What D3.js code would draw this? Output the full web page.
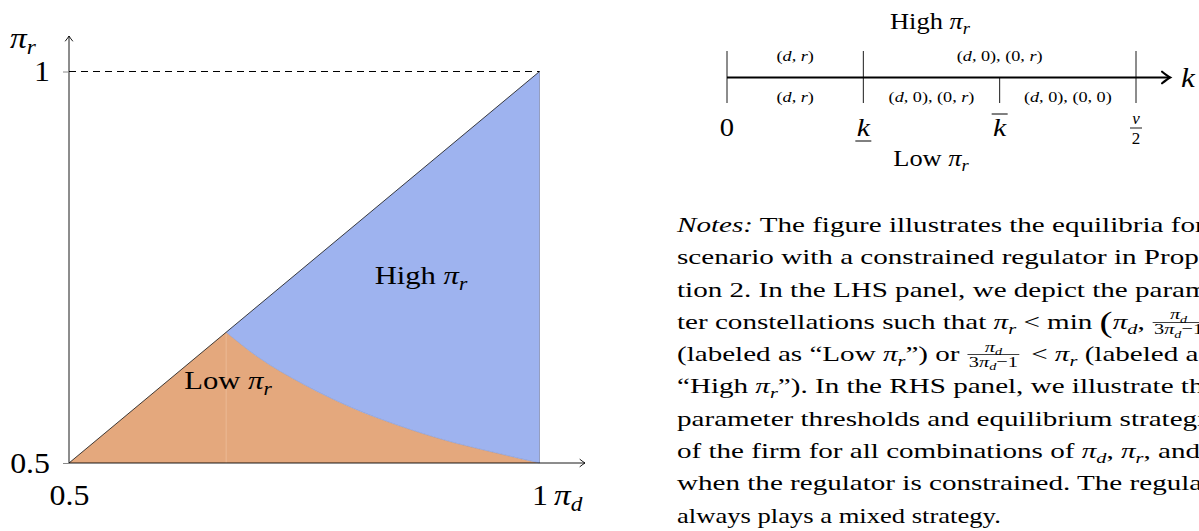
<!DOCTYPE html>
<html>
<head>
<meta charset="utf-8">
<script src="https://cdn.jsdelivr.net/npm/d3@7"></script>
<style>
  body { margin: 0; background: #fff; }
  svg { display: block; }
  text { font-family: "Liberation Serif", "DejaVu Serif", serif; fill: #000; white-space: pre; }
</style>
</head>
<body>
<svg id="chart" width="1199" height="531"></svg>
<script>
// LHS panel data (pi_d, pi_r)
const axisTicks = [0.5, 1];
const diagonal = [[0.5, 0.5], [1, 1]];
const kink = [0.667, 0.667];
// boundary between "Low" and "High"
const boundary = [[0.667, 0.667], [0.7, 0.636], [0.75, 0.6], [0.8, 0.571], [0.85, 0.548], [0.9, 0.529], [0.95, 0.514], [1, 0.5]];
const regionLabels = ['High', 'Low'];

// RHS panel data
const kThresholds = [0, 1, 2, 3];
const kTickLabels = ['0', 'k_', 'k-', 'v/2'];
const highStrategies = [[0, 1, '(d, r)'], [1, 3, '(d, 0), (0, r)']];
const lowStrategies = [[0, 1, '(d, r)'], [1, 2, '(d, 0), (0, r)'], [2, 3, '(d, 0), (0, 0)']];

// notes text
const PR = { pi: 'r' }, PD = { pi: 'd' }, FRAC = { frac: true }, PAREN = { paren: '(' };
const notesLines = [
  [['Notes:', 'it'], ' The figure illustrates the equilibria for the'],
  ['scenario with a constrained regulator in Proposi-'],
  ['tion 2. In the LHS panel, we depict the parame-'],
  ['ter constellations such that ', PR, ' < min ', PAREN, PD, ', ', FRAC],
  ['(labeled as “Low ', PR, '”) or ', FRAC, ' < ', PR, ' (labeled as'],
  ['“High ', PR, '”). In the RHS panel, we illustrate the'],
  ['parameter thresholds and equilibrium strategies'],
  ['of the firm for all combinations of ', PD, ', ', PR, ', and'],
  ['when the regulator is constrained. The regulator'],
  ['always plays a mixed strategy.']
];

const svg = d3.select('#chart');

// append "text + pi_sub" runs as tspans
const mathRuns = (sel, parts, size) => {
  let down = false;
  parts.forEach(p => {
    if (typeof p === 'string') p = [p];
    if (p.pi) {
      sel.append('tspan').attr('font-style', 'italic').attr('dy', down ? -size * 0.22 : null).text('π');
      sel.append('tspan').attr('font-style', 'italic').attr('font-size', size * 0.7).attr('dy', size * 0.22).text(p.pi);
      down = true;
    } else {
      sel.append('tspan').attr('font-style', p[1] === 'it' ? 'italic' : null)
        .attr('dy', down ? -size * 0.22 : null).text(p[0]);
      down = false;
    }
  });
  return sel;
};

// widen a label around its anchor (Computer Modern is wider than Liberation)
const stretch = (sel, cx, f) => sel.attr('transform', `translate(${cx},0) scale(${f},1) translate(${-cx},0)`);

/* ---------------- LHS panel ---------------- */
const x = d3.scaleLinear().domain([0.5, 1]).range([69, 539.5]);
const y = d3.scaleLinear().domain([0.5, 1]).range([463, 71.5]);

const curveD = d3.line().x(d => x(d[0])).y(d => y(d[1])).curve(d3.curveMonotoneX)(boundary);

const lhs = svg.append('g');

//low region
lhs.append('path')
  .attr('d', `M${x(0.5)},${y(0.5)}L` + curveD.slice(1) + 'Z')
  .attr('fill', '#e4a87d');

//seam inside low region
lhs.append('line')
  .attr('x1', x(kink[0])).attr('x2', x(kink[0]))
  .attr('y1', y(0.5)).attr('y2', y(kink[1]))
  .attr('stroke', '#edbf9c').attr('stroke-width', 0.8);

//high region
lhs.append('path')
  .attr('d', curveD + `L${x(1)},${y(1)}Z`)
  .attr('fill', '#9eb3ef');

lhs.append('path')
  .attr('d', curveD)
  .attr('fill', 'none')
  .attr('stroke', '#7d8fc4')
  .attr('stroke-width', 0.5);

lhs.append('line')
  .attr('x1', x(1)).attr('x2', x(1))
  .attr('y1', y(1)).attr('y2', y(0.5))
  .attr('stroke', '#8d97b9').attr('stroke-width', 0.9);

//45 degree line
lhs.append('line')
  .attr('x1', x(diagonal[0][0])).attr('y1', y(diagonal[0][1]))
  .attr('x2', x(diagonal[1][0])).attr('y2', y(diagonal[1][1]))
  .attr('stroke', '#111').attr('stroke-width', 0.8);

//dashed line at pi_r = 1
lhs.append('line')
  .attr('x1', x(0.5)).attr('x2', x(1))
  .attr('y1', y(1)).attr('y2', y(1))
  .attr('stroke', '#000').attr('stroke-width', 1)
  .attr('stroke-dasharray', '7,5');

//arrow heads
const arrow = (g, x1, y1, x2, y2, w) => {
  g.append('line').attr('x1', x1).attr('y1', y1).attr('x2', x2).attr('y2', y2)
    .attr('stroke', '#000').attr('stroke-width', w);
  const a = Math.atan2(y2 - y1, x2 - x1) * 180 / Math.PI;
  const s = w > 1.5 ? 1.6 : 1;
  g.append('path')
    .attr('d', `M${-5 * s},${-3.6 * s}Q${-1.5 * s},${-0.8 * s} 0,0Q${-1.5 * s},${0.8 * s} ${-5 * s},${3.6 * s}`)
    .attr('transform', `translate(${x2},${y2}) rotate(${a})`)
    .attr('fill', 'none').attr('stroke', '#000').attr('stroke-width', w)
    .attr('stroke-linecap', 'round');
};

arrow(lhs, x(0.5), y(0.5), x(0.5), 36, 0.9);
arrow(lhs, x(0.5), y(0.5), 585, y(0.5), 0.9);

//axes
const yAxis = d3.axisLeft(y).tickValues(axisTicks).tickFormat(d => String(d)).tickSizeInner(6).tickSizeOuter(0).tickPadding(13);
const xAxis = d3.axisBottom(x).tickValues(axisTicks).tickFormat(d => String(d)).tickSize(0).tickPadding(21);

const yAxisGroup = lhs.append('g').attr('transform', `translate(${x(0.5)},0)`).call(yAxis);
const xAxisGroup = lhs.append('g').attr('transform', `translate(0,${y(0.5)})`).call(xAxis);

[yAxisGroup, xAxisGroup].forEach(g => {
  g.select('.domain').remove();
  g.selectAll('line').attr('stroke', '#888');
  g.selectAll('text')
    .attr('font-family', '"Liberation Serif", serif')
    .attr('font-size', 29)
    .attr('fill', '#000');
});
yAxisGroup.selectAll('text').attr('transform', 'translate(-19,0) scale(1.1,1) translate(19,0)');
xAxisGroup.selectAll('text').attr('transform', 'scale(1.1,1)');

//axis titles
stretch(mathRuns(lhs.append('text').attr('x', 10).attr('y', 48).attr('font-size', 29), [PR], 29), 10, 1.15);
stretch(mathRuns(lhs.append('text').attr('x', 554).attr('y', 505).attr('font-size', 29), [PD], 29), 554, 1.15);

//region labels
stretch(mathRuns(lhs.append('text').attr('x', 421).attr('y', 284).attr('font-size', 26).attr('text-anchor', 'middle'),
  [regionLabels[0] + ' ', PR], 26), 421, 1.18);
stretch(mathRuns(lhs.append('text').attr('x', 228).attr('y', 389).attr('font-size', 26).attr('text-anchor', 'middle'),
  [regionLabels[1] + ' ', PR], 26), 228, 1.18);

/* ---------------- RHS panel ---------------- */
const k = d3.scaleLinear().domain([0, 3]).range([727, 1136]);
const lineY = 77.5;
const rhs = svg.append('g');

arrow(rhs, k(0), lineY, k(3.25), lineY, 2.2);

rhs.selectAll('.kTick').data(kThresholds).enter()
  .append('line')
  .attr('class', 'kTick')
  .attr('x1', d => k(d)).attr('x2', d => k(d))
  .attr('y1', (d, i) => kTickLabels[i] === 'k-' ? lineY : 51)
  .attr('y2', 103)
  .attr('stroke', '#000').attr('stroke-width', 0.9);

stretch(rhs.append('text').attr('x', k(3.25) + 11).attr('y', 87)
  .attr('font-size', 27).attr('font-style', 'italic').text('k'), k(3.25) + 11, 1.15);

//threshold labels
kThresholds.forEach((d, i) => {
  const lab = kTickLabels[i], cx = k(d);
  if (lab === '0') {
    stretch(rhs.append('text').attr('x', cx).attr('y', 136).attr('font-size', 26).attr('text-anchor', 'middle').text('0'), cx, 1.1);
  } else if (lab === 'k_' || lab === 'k-') {
    stretch(rhs.append('text').attr('x', cx).attr('y', 136).attr('font-size', 26)
      .attr('font-style', 'italic').attr('text-anchor', 'middle').text('k'), cx, 1.15);
    rhs.append('line').attr('x1', cx - 8).attr('x2', cx + 8)
      .attr('y1', lab === 'k_' ? 141 : 114).attr('y2', lab === 'k_' ? 141 : 114)
      .attr('stroke', '#000').attr('stroke-width', 1);
  } else {
    rhs.append('text').attr('x', cx).attr('y', 124).attr('font-size', 17)
      .attr('font-style', 'italic').attr('text-anchor', 'middle').text('v');
    rhs.append('line').attr('x1', cx - 6).attr('x2', cx + 6).attr('y1', 128).attr('y2', 128)
      .attr('stroke', '#000').attr('stroke-width', 0.9);
    rhs.append('text').attr('x', cx).attr('y', 144).attr('font-size', 17).attr('text-anchor', 'middle').text('2');
  }
});

//strategy labels
const strategyText = (sel, label) => {
  label.split(/([dr])/).forEach(s => {
    if (!s) return;
    sel.append('tspan').attr('font-style', s === 'd' || s === 'r' ? 'italic' : null).text(s);
  });
  return sel;
};

[[highStrategies, 61], [lowStrategies, 102]].forEach(([data, yy]) => {
  data.forEach(([a, b, label]) => {
    const cx = k((a + b) / 2);
    stretch(strategyText(rhs.append('text').attr('x', cx).attr('y', yy)
      .attr('font-size', 14).attr('text-anchor', 'middle'), label), cx, 1.3);
  });
});

stretch(mathRuns(rhs.append('text').attr('x', 930).attr('y', 29).attr('font-size', 23).attr('text-anchor', 'middle'),
  ['High ', PR], 23), 930, 1.15);
stretch(mathRuns(rhs.append('text').attr('x', 931).attr('y', 166).attr('font-size', 23).attr('text-anchor', 'middle'),
  ['Low ', PR], 23), 931, 1.15);

/* ---------------- notes ---------------- */
const fs = 22;
const notesX = 677;

const measure = str => {
  const t = svg.append('text').attr('font-size', fs).text(str);
  const w = t.node().getComputedTextLength();
  t.remove();
  return w;
};
// justified lines are a bit wider than the last (ragged) one
const sxJustified = (1199 - notesX) / measure('scenario with a constrained regulator in Prop');
const sxLast = (1001 - notesX) / measure('always plays a mixed strategy.');

notesLines.forEach((parts, li) => {
  const base = 232 + li * 32.3;
  const g = svg.append('g')
    .attr('transform', `translate(${notesX},0) scale(${li === notesLines.length - 1 ? sxLast : sxJustified},1)`);
  let cx = 0;
  let chunk = [];
  const flush = () => {
    if (!chunk.length) return;
    const t = g.append('text').attr('x', cx).attr('y', base).attr('font-size', fs);
    mathRuns(t, chunk, fs);
    cx += t.node().getComputedTextLength();
    chunk = [];
  };
  parts.forEach(p => {
    if (p.frac) {
      flush();
      const bar = base - 6.5;
      const sm = fs * 0.7;
      const num = mathRuns(g.append('text').attr('y', bar - 3).attr('font-size', sm), [PD], sm);
      const den = mathRuns(g.append('text').attr('y', bar + 12).attr('font-size', sm), ['3', PD, '−1'], sm);
      const wn = num.node().getComputedTextLength(), wd = den.node().getComputedTextLength();
      const w = Math.max(wn, wd) + 3;
      num.attr('x', cx + (w - wn) / 2);
      den.attr('x', cx + (w - wd) / 2);
      g.append('line').attr('x1', cx + 0.5).attr('x2', cx + w - 0.5).attr('y1', bar).attr('y2', bar)
        .attr('stroke', '#000').attr('stroke-width', 0.8);
      cx += w + 3;
    } else if (p.paren) {
      flush();
      const t = g.append('text').attr('x', cx).attr('y', base + 3).attr('font-size', fs * 1.35).text(p.paren);
      cx += t.node().getComputedTextLength();
    } else {
      chunk.push(p);
    }
  });
  flush();
});
</script>
</body>
</html>
